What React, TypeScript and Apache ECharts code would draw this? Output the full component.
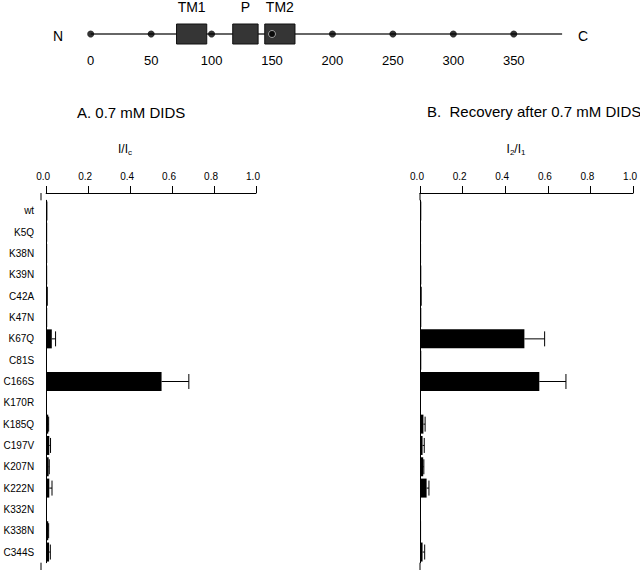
import React, { useEffect, useRef } from "react";
import * as echarts from "echarts";

// ---------- data ----------
const categories = [
  "wt", "K5Q", "K38N", "K39N", "C42A", "K47N", "K67Q", "C81S", "C166S",
  "K170R", "K185Q", "C197V", "K207N", "K222N", "K332N", "K338N", "C344S",
];
// Panel A: I/Ic after 0.7 mM DIDS
const ratioA = [0.006, 0.005, 0.005, 0.005, 0.008, 0.005, 0.027, 0.004, 0.55, 0.003, 0.01, 0.015, 0.012, 0.015, 0.002, 0.01, 0.014];
const errA = [0, 0, 0, 0, 0, 0, 0.018, 0, 0.13, 0, 0.002, 0.006, 0.003, 0.013, 0, 0.002, 0.006];
// Panel B: I2/I1 recovery after 0.7 mM DIDS
const ratioB = [0.006, 0.005, 0.005, 0.006, 0.008, 0.006, 0.49, 0.006, 0.56, 0.004, 0.016, 0.012, 0.015, 0.031, 0.002, 0.005, 0.012];
const errB = [0, 0, 0, 0, 0, 0, 0.095, 0, 0.125, 0, 0.008, 0.008, 0.003, 0.011, 0, 0, 0.01];
// Schematic of the protein
const proteinLength = 390;
const residueTicks = [0, 50, 100, 150, 200, 250, 300, 350];
const domainNames = ["TM1", "P", "TM2"];
const domainStart = [71, 117.5, 144];
const domainEnd = [96, 138.5, 169];

const FONT = "'Liberation Sans', Arial, Helvetica, sans-serif";

export default function App() {
  const ref = useRef<HTMLDivElement>(null);

  useEffect(() => {
    if (!ref.current) return;
    const chart = echarts.init(ref.current, null, { renderer: "svg" });

    const valueXAxis = (gridIndex: number) => ({
      type: "value",
      gridIndex,
      position: "top",
      offset: 7.3,
      min: 0,
      max: 1,
      interval: 0.2,
      axisLine: { show: true, lineStyle: { color: "#000", width: 1 } },
      axisTick: { show: true, length: 7, inside: false, lineStyle: { color: "#000", width: 1 } },
      splitLine: { show: false },
      axisLabel: {
        fontSize: 10,
        color: "#000",
        margin: 12,
        fontFamily: FONT,
        padding: [0, 6, 0, 0],
        formatter: (v: number) => v.toFixed(1),
      },
    });

    const catYAxis = (gridIndex: number, showLabels: boolean) => ({
      type: "category",
      gridIndex,
      inverse: true,
      data: categories,
      axisLine: { show: true, lineStyle: { color: "#000", width: 1 } },
      axisTick: { show: false },
      splitLine: { show: false },
      axisLabel: {
        show: showLabels,
        fontSize: 10,
        color: "#000",
        margin: 12,
        fontFamily: FONT,
      },
    });

    const errorItems = (vals: number[], errs: number[]) =>
      vals
        .map((v, i) => [v, errs[i], i])
        .filter((d) => d[1] > 0);

    const errorRender = (params: any, api: any) => {
      const v = api.value(0);
      const e = api.value(1);
      const idx = api.value(2);
      const p0 = api.coord([v, idx]);
      const p1 = api.coord([v + e, idx]);
      const cap = 7.5;
      return {
        type: "group",
        children: [
          {
            type: "line",
            shape: { x1: p0[0], y1: p0[1], x2: p1[0], y2: p1[1] },
            style: { stroke: "#000", lineWidth: 1 },
          },
          {
            type: "line",
            shape: { x1: p1[0], y1: p1[1] - cap, x2: p1[0], y2: p1[1] + cap },
            style: { stroke: "#000", lineWidth: 1 },
          },
        ],
      };
    };

    const gridTop = 200.3;
    const gridH = 362.4;

    const option: any = {
      animation: false,
      backgroundColor: "#fff",
      textStyle: { fontFamily: FONT },
      grid: [
        { left: 41, top: gridTop, width: 215, height: gridH },
        { left: 420, top: gridTop, width: 215, height: gridH },
        { left: 90.7, top: 24, width: 471.4, height: 20 },
      ],
      xAxis: [
        valueXAxis(0),
        valueXAxis(1),
        {
          type: "value",
          gridIndex: 2,
          min: 0,
          max: proteinLength,
          interval: 50,
          axisLine: { show: false },
          axisTick: { show: false },
          splitLine: { show: false },
          axisLabel: {
            fontSize: 13,
            color: "#000",
            margin: 10,
            fontFamily: FONT,
            formatter: (v: number) => (v % 50 === 0 ? String(v) : ""),
          },
        },
      ],
      yAxis: [
        catYAxis(0, true),
        catYAxis(1, false),
        { type: "value", gridIndex: 2, min: -1, max: 1, show: false },
      ],
      series: [
        {
          type: "bar",
          xAxisIndex: 0,
          yAxisIndex: 0,
          data: ratioA,
          barWidth: 19,
          itemStyle: { color: "#000" },
          z: 2,
        },
        {
          type: "custom",
          xAxisIndex: 0,
          yAxisIndex: 0,
          data: errorItems(ratioA, errA),
          encode: { x: 0, y: 2 },
          renderItem: errorRender,
          z: 3,
        },
        {
          type: "bar",
          xAxisIndex: 1,
          yAxisIndex: 1,
          data: ratioB,
          barWidth: 19,
          itemStyle: { color: "#000" },
          z: 2,
        },
        {
          type: "custom",
          xAxisIndex: 1,
          yAxisIndex: 1,
          data: errorItems(ratioB, errB),
          encode: { x: 0, y: 2 },
          renderItem: errorRender,
          z: 3,
        },
        // protein backbone
        {
          type: "line",
          xAxisIndex: 2,
          yAxisIndex: 2,
          data: [[0, 0], [proteinLength, 0]],
          symbol: "none",
          lineStyle: { color: "#333", width: 1.5 },
          z: 1,
        },
        // domains
        {
          type: "custom",
          xAxisIndex: 2,
          yAxisIndex: 2,
          data: domainStart.map((s, i) => [s, domainEnd[i], i]),
          encode: { x: [0, 1] },
          renderItem: (params: any, api: any) => {
            const s = api.value(0);
            const e = api.value(1);
            const i = api.value(2);
            const p0 = api.coord([s, 1]);
            const p1 = api.coord([e, -1]);
            return {
              type: "group",
              children: [
                {
                  type: "rect",
                  shape: { x: p0[0], y: p0[1], width: p1[0] - p0[0], height: p1[1] - p0[1] },
                  style: { fill: "#353535", stroke: "#111", lineWidth: 1 },
                },
                {
                  type: "text",
                  x: (p0[0] + p1[0]) / 2,
                  y: p0[1] - 17.5,
                  style: {
                    text: domainNames[i],
                    fontSize: 14,
                    fontFamily: FONT,
                    fill: "#000",
                    textAlign: "center",
                    textVerticalAlign: "middle",
                  },
                },
              ],
            };
          },
          z: 2,
        },
        // residue markers
        {
          type: "scatter",
          xAxisIndex: 2,
          yAxisIndex: 2,
          symbolSize: 7,
          data: residueTicks.map((r) =>
            r === 150
              ? { value: [r, 0], itemStyle: { color: "#000", borderColor: "#bbb", borderWidth: 1 } }
              : { value: [r, 0] }
          ),
          itemStyle: { color: "#000" },
          z: 4,
        },
      ],
      graphic: [
        // axis line extensions
        { type: "line", shape: { x1: 41, y1: 193, x2: 41, y2: gridTop }, style: { stroke: "#000", lineWidth: 1 } },
        { type: "line", shape: { x1: 41, y1: gridTop + gridH, x2: 41, y2: 570 }, style: { stroke: "#000", lineWidth: 1 } },
        { type: "line", shape: { x1: 420, y1: 193, x2: 420, y2: gridTop }, style: { stroke: "#000", lineWidth: 1 } },
        { type: "line", shape: { x1: 420, y1: gridTop + gridH, x2: 420, y2: 570 }, style: { stroke: "#000", lineWidth: 1 } },
        // schematic ends
        {
          type: "text", x: 58, y: 36,
          style: { text: "N", fontSize: 14, fontFamily: FONT, fill: "#000", textAlign: "center", textVerticalAlign: "middle" },
        },
        {
          type: "text", x: 583, y: 36,
          style: { text: "C", fontSize: 14, fontFamily: FONT, fill: "#000", textAlign: "center", textVerticalAlign: "middle" },
        },
        // panel titles
        {
          type: "text", x: 77, y: 112,
          style: { text: "A. 0.7 mM DIDS", fontSize: 15, fontFamily: FONT, fill: "#000", textAlign: "left", textVerticalAlign: "middle" },
        },
        {
          type: "text", x: 427, y: 111,
          style: { text: "B.  Recovery after 0.7 mM DIDS", fontSize: 15, fontFamily: FONT, fill: "#000", textAlign: "left", textVerticalAlign: "middle" },
        },
        // axis names
        {
          type: "text", x: 125, y: 149,
          style: {
            text: "{n|I/I}{s|c}",
            fill: "#000",
            textAlign: "center",
            textVerticalAlign: "middle",
            rich: {
              n: { fontSize: 12, fontFamily: FONT, fill: "#000" },
              s: { fontSize: 8, fontFamily: FONT, fill: "#000", padding: [7, 0, 0, 0] },
            },
          },
        },
        {
          type: "text", x: 516, y: 149,
          style: {
            text: "{n|I}{s|2}{n|/I}{s|1}",
            fill: "#000",
            textAlign: "center",
            textVerticalAlign: "middle",
            rich: {
              n: { fontSize: 12, fontFamily: FONT, fill: "#000" },
              s: { fontSize: 8, fontFamily: FONT, fill: "#000", padding: [7, 0, 0, 0] },
            },
          },
        },
      ],
    };

    chart.setOption(option);
    return () => chart.dispose();
  }, []);

  return (
    <div
      ref={ref}
      style={{ position: "fixed", left: 0, top: 0, width: 640, height: 570, background: "#fff" }}
    />
  );
}
